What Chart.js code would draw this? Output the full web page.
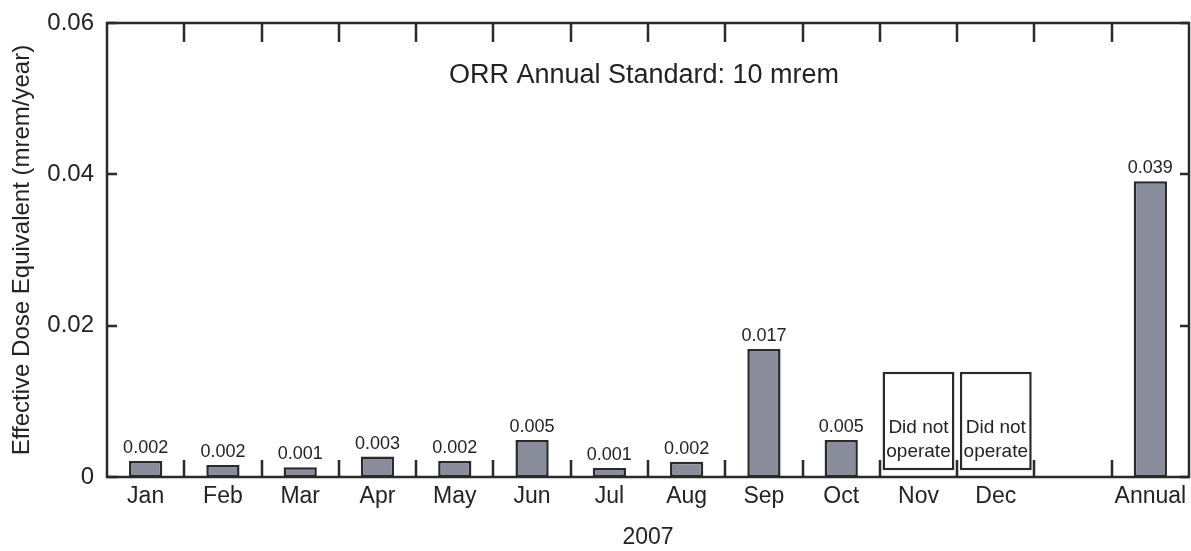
<!DOCTYPE html>
<html>
<head>
<meta charset="utf-8">
<script src="https://cdn.jsdelivr.net/npm/chart.js@4"></script>
<style>
  html, body { margin: 0; padding: 0; background: #fff; }
  canvas { display: block; }
</style>
</head>
<body>
<canvas id="dose" width="1191" height="551"></canvas>
<script>
// Monthly effective dose equivalent, 2007, plus the annual total
const categories = ['Jan', 'Feb', 'Mar', 'Apr', 'May', 'Jun', 'Jul', 'Aug', 'Sep', 'Oct', 'Nov', 'Dec', '', 'Annual'];
const doseValues = [0.0021, 0.0016, 0.0013, 0.0027, 0.0021, 0.0049, 0.0012, 0.0020, 0.0169, 0.0049, null, null, null, 0.0391];
const offlineMonths = ['Nov', 'Dec'];
const offlineText = ['Did not', 'operate'];
const yTickValues = [0, 0.02, 0.04, 0.06];
const standardNote = 'ORR Annual Standard: 10 mrem';
const yearLabel = '2007';
const yAxisLabel = 'Effective Dose Equivalent (mrem/year)';

// vertical extent of the "did not operate" boxes, in axis units
const OFFLINE_BOX = [0.0009, 0.0139];

const FONT = 'Liberation Sans, Arial, Helvetica, sans-serif';
const INK = '#232323';
const LINE = '#2a2a2a';

const offlineData = categories.map(c => offlineMonths.includes(c) ? OFFLINE_BOX.slice() : null);

// frame around the plot with inward-pointing ticks
const framePlugin = {
  id: 'frame',
  afterDatasetsDraw(chart) {
    const {ctx, chartArea: a, scales: {x, y}} = chart;
    ctx.save();
    ctx.strokeStyle = LINE;
    ctx.lineWidth = 2.5;
    ctx.lineCap = 'butt';
    ctx.strokeRect(a.left, a.top, a.right - a.left, a.bottom - a.top);
    ctx.beginPath();
    // category boundary ticks, top and bottom
    for (let i = 0; i < categories.length - 1; i++) {
      const px = Math.round((x.getPixelForValue(i) + x.getPixelForValue(i + 1)) / 2);
      ctx.moveTo(px, a.top);
      ctx.lineTo(px, a.top + 19);
      ctx.moveTo(px, a.bottom);
      ctx.lineTo(px, a.bottom - 17);
    }
    // value ticks, left and right
    yTickValues.forEach(v => {
      const py = Math.round(y.getPixelForValue(v));
      ctx.moveTo(a.left, py);
      ctx.lineTo(a.left + 10, py);
      ctx.moveTo(a.right, py);
      ctx.lineTo(a.right - 9, py);
    });
    ctx.stroke();
    ctx.restore();
  }
};

// value labels above bars, text inside the offline boxes, and the standard note
const labelPlugin = {
  id: 'labels',
  afterDatasetsDraw(chart) {
    const {ctx, chartArea: a} = chart;
    ctx.save();
    ctx.fillStyle = INK;
    ctx.textAlign = 'center';
    ctx.textBaseline = 'alphabetic';

    ctx.font = '18px ' + FONT;
    chart.getDatasetMeta(0).data.forEach((bar, i) => {
      const v = doseValues[i];
      if (v == null) return;
      ctx.fillText(v.toFixed(3), bar.x, bar.y - 8);
    });

    ctx.font = '19px ' + FONT;
    chart.getDatasetMeta(1).data.forEach((box, i) => {
      if (offlineData[i] == null) return;
      const bottom = box.base;
      ctx.fillText(offlineText[0], box.x, bottom - 37);
      ctx.fillText(offlineText[1], box.x, bottom - 13);
    });

    ctx.font = '27px ' + FONT;
    ctx.fillText(standardNote, (a.left + a.right) / 2 - 4, 83);
    ctx.restore();
  }
};

new Chart(document.getElementById('dose'), {
  type: 'bar',
  data: {
    labels: categories,
    datasets: [
      {
        label: 'Dose',
        data: doseValues,
        backgroundColor: '#898d9b',
        borderColor: LINE,
        borderWidth: 2.5,
        borderSkipped: false,
        barPercentage: 0.43,
        categoryPercentage: 1,
        grouped: false
      },
      {
        label: 'Did not operate',
        data: offlineData,
        backgroundColor: '#ffffff',
        borderColor: LINE,
        borderWidth: 2.5,
        borderSkipped: false,
        barPercentage: 0.93,
        categoryPercentage: 1,
        grouped: false
      }
    ]
  },
  options: {
    responsive: false,
    animation: false,
    events: [],
    layout: { padding: { left: 0, right: 2, top: 0, bottom: 0 } },
    plugins: {
      legend: { display: false },
      tooltip: { enabled: false },
      title: { display: false }
    },
    scales: {
      x: {
        type: 'category',
        offset: true,
        grid: { display: false, drawTicks: false },
        border: { display: false },
        ticks: {
          autoSkip: false,
          maxRotation: 0,
          minRotation: 0,
          padding: 6,
          color: INK,
          font: { family: FONT, size: 23 }
        },
        title: {
          display: true,
          text: yearLabel,
          color: INK,
          font: { family: FONT, size: 23 },
          padding: { top: 0, bottom: 0 }
        },
        afterFit(scale) {
          scale.height = 74;
          scale.paddingLeft = 0;
          scale.paddingRight = 0;
        }
      },
      y: {
        type: 'linear',
        min: 0,
        max: 0.06,
        grid: { display: false, drawTicks: false },
        border: { display: false },
        afterBuildTicks(scale) { scale.ticks = yTickValues.map(v => ({ value: v })); },
        ticks: {
          padding: 13,
          color: INK,
          font: { family: FONT, size: 24 },
          callback: v => (v === 0 ? '0' : v.toFixed(2))
        },
        title: {
          display: true,
          text: yAxisLabel,
          color: INK,
          font: { family: FONT, size: 24 },
          padding: { top: 8, bottom: 0 }
        },
        afterFit(scale) {
          scale.width = 107;
          scale.paddingTop = 23;
          scale.paddingBottom = 0;
        }
      }
    }
  },
  plugins: [framePlugin, labelPlugin]
});
</script>
</body>
</html>
